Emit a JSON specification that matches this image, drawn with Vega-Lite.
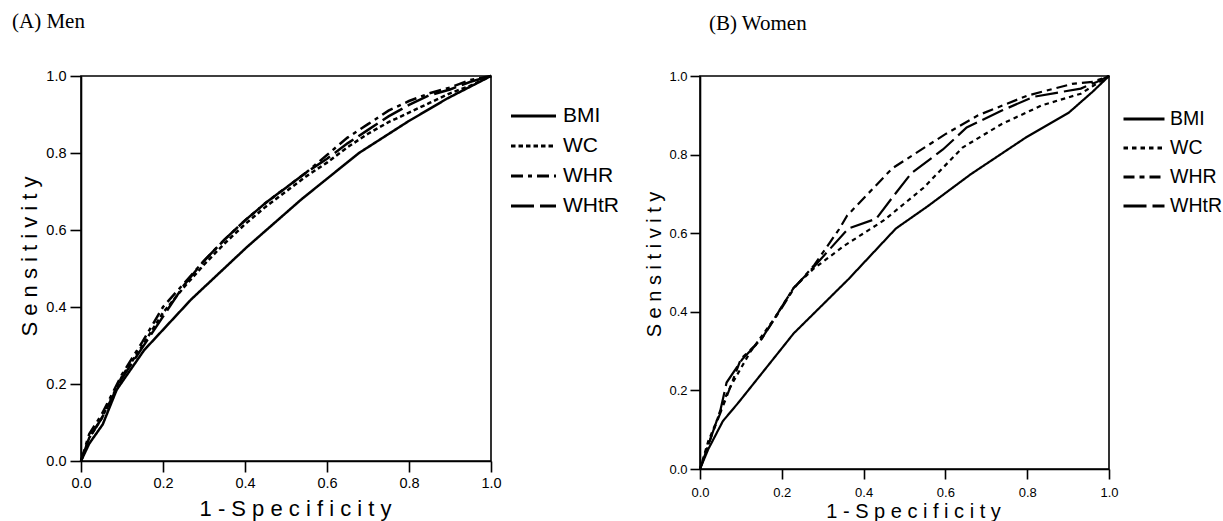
{
  "$schema": "https://vega.github.io/schema/vega-lite/v6.json",
  "padding": {"left": 11, "top": 10, "right": 0, "bottom": 0},
  "background": "white",
  "datasets": {
    "men": [
      {"measure": "BMI", "fpr": 0, "tpr": 0}, {"measure": "BMI", "fpr": 0.02, "tpr": 0.045}, {"measure": "BMI", "fpr": 0.053, "tpr": 0.095}, {"measure": "BMI", "fpr": 0.087, "tpr": 0.185}, {"measure": "BMI", "fpr": 0.154, "tpr": 0.288}, {"measure": "BMI", "fpr": 0.269, "tpr": 0.42}, {"measure": "BMI", "fpr": 0.404, "tpr": 0.555}, {"measure": "BMI", "fpr": 0.538, "tpr": 0.68}, {"measure": "BMI", "fpr": 0.678, "tpr": 0.8}, {"measure": "BMI", "fpr": 0.798, "tpr": 0.882}, {"measure": "BMI", "fpr": 0.894, "tpr": 0.942}, {"measure": "BMI", "fpr": 1, "tpr": 1},
      {"measure": "WC", "fpr": 0, "tpr": 0}, {"measure": "WC", "fpr": 0.02, "tpr": 0.06}, {"measure": "WC", "fpr": 0.05, "tpr": 0.11}, {"measure": "WC", "fpr": 0.1, "tpr": 0.22}, {"measure": "WC", "fpr": 0.15, "tpr": 0.3}, {"measure": "WC", "fpr": 0.2, "tpr": 0.385}, {"measure": "WC", "fpr": 0.25, "tpr": 0.45}, {"measure": "WC", "fpr": 0.3, "tpr": 0.51}, {"measure": "WC", "fpr": 0.35, "tpr": 0.565}, {"measure": "WC", "fpr": 0.4, "tpr": 0.615}, {"measure": "WC", "fpr": 0.45, "tpr": 0.66}, {"measure": "WC", "fpr": 0.5, "tpr": 0.7}, {"measure": "WC", "fpr": 0.55, "tpr": 0.74}, {"measure": "WC", "fpr": 0.6, "tpr": 0.775}, {"measure": "WC", "fpr": 0.65, "tpr": 0.815}, {"measure": "WC", "fpr": 0.7, "tpr": 0.85}, {"measure": "WC", "fpr": 0.75, "tpr": 0.88}, {"measure": "WC", "fpr": 0.8, "tpr": 0.905}, {"measure": "WC", "fpr": 0.85, "tpr": 0.93}, {"measure": "WC", "fpr": 0.9, "tpr": 0.955}, {"measure": "WC", "fpr": 0.95, "tpr": 0.975}, {"measure": "WC", "fpr": 1, "tpr": 1},
      {"measure": "WHR", "fpr": 0, "tpr": 0}, {"measure": "WHR", "fpr": 0.02, "tpr": 0.07}, {"measure": "WHR", "fpr": 0.05, "tpr": 0.12}, {"measure": "WHR", "fpr": 0.1, "tpr": 0.225}, {"measure": "WHR", "fpr": 0.15, "tpr": 0.31}, {"measure": "WHR", "fpr": 0.2, "tpr": 0.4}, {"measure": "WHR", "fpr": 0.25, "tpr": 0.46}, {"measure": "WHR", "fpr": 0.3, "tpr": 0.52}, {"measure": "WHR", "fpr": 0.35, "tpr": 0.575}, {"measure": "WHR", "fpr": 0.4, "tpr": 0.625}, {"measure": "WHR", "fpr": 0.45, "tpr": 0.67}, {"measure": "WHR", "fpr": 0.5, "tpr": 0.71}, {"measure": "WHR", "fpr": 0.55, "tpr": 0.75}, {"measure": "WHR", "fpr": 0.6, "tpr": 0.795}, {"measure": "WHR", "fpr": 0.65, "tpr": 0.84}, {"measure": "WHR", "fpr": 0.7, "tpr": 0.875}, {"measure": "WHR", "fpr": 0.75, "tpr": 0.91}, {"measure": "WHR", "fpr": 0.8, "tpr": 0.935}, {"measure": "WHR", "fpr": 0.85, "tpr": 0.955}, {"measure": "WHR", "fpr": 0.9, "tpr": 0.97}, {"measure": "WHR", "fpr": 0.95, "tpr": 0.99}, {"measure": "WHR", "fpr": 1, "tpr": 1},
      {"measure": "WHtR", "fpr": 0, "tpr": 0}, {"measure": "WHtR", "fpr": 0.02, "tpr": 0.06}, {"measure": "WHtR", "fpr": 0.05, "tpr": 0.11}, {"measure": "WHtR", "fpr": 0.1, "tpr": 0.215}, {"measure": "WHtR", "fpr": 0.15, "tpr": 0.295}, {"measure": "WHtR", "fpr": 0.2, "tpr": 0.375}, {"measure": "WHtR", "fpr": 0.25, "tpr": 0.455}, {"measure": "WHtR", "fpr": 0.3, "tpr": 0.52}, {"measure": "WHtR", "fpr": 0.35, "tpr": 0.575}, {"measure": "WHtR", "fpr": 0.4, "tpr": 0.625}, {"measure": "WHtR", "fpr": 0.45, "tpr": 0.67}, {"measure": "WHtR", "fpr": 0.5, "tpr": 0.71}, {"measure": "WHtR", "fpr": 0.55, "tpr": 0.75}, {"measure": "WHtR", "fpr": 0.6, "tpr": 0.785}, {"measure": "WHtR", "fpr": 0.65, "tpr": 0.825}, {"measure": "WHtR", "fpr": 0.7, "tpr": 0.86}, {"measure": "WHtR", "fpr": 0.75, "tpr": 0.895}, {"measure": "WHtR", "fpr": 0.8, "tpr": 0.925}, {"measure": "WHtR", "fpr": 0.85, "tpr": 0.95}, {"measure": "WHtR", "fpr": 0.9, "tpr": 0.965}, {"measure": "WHtR", "fpr": 0.95, "tpr": 0.985}, {"measure": "WHtR", "fpr": 1, "tpr": 1}
    ],
    "women": [
      {"measure": "BMI", "fpr": 0, "tpr": 0}, {"measure": "BMI", "fpr": 0.02, "tpr": 0.05}, {"measure": "BMI", "fpr": 0.056, "tpr": 0.122}, {"measure": "BMI", "fpr": 0.094, "tpr": 0.169}, {"measure": "BMI", "fpr": 0.147, "tpr": 0.238}, {"measure": "BMI", "fpr": 0.229, "tpr": 0.345}, {"measure": "BMI", "fpr": 0.296, "tpr": 0.414}, {"measure": "BMI", "fpr": 0.363, "tpr": 0.483}, {"measure": "BMI", "fpr": 0.479, "tpr": 0.612}, {"measure": "BMI", "fpr": 0.556, "tpr": 0.668}, {"measure": "BMI", "fpr": 0.662, "tpr": 0.75}, {"measure": "BMI", "fpr": 0.796, "tpr": 0.843}, {"measure": "BMI", "fpr": 0.902, "tpr": 0.907}, {"measure": "BMI", "fpr": 0.96, "tpr": 0.96}, {"measure": "BMI", "fpr": 1, "tpr": 1},
      {"measure": "WC", "fpr": 0, "tpr": 0}, {"measure": "WC", "fpr": 0.02, "tpr": 0.07}, {"measure": "WC", "fpr": 0.04, "tpr": 0.12}, {"measure": "WC", "fpr": 0.065, "tpr": 0.19}, {"measure": "WC", "fpr": 0.08, "tpr": 0.22}, {"measure": "WC", "fpr": 0.123, "tpr": 0.298}, {"measure": "WC", "fpr": 0.18, "tpr": 0.38}, {"measure": "WC", "fpr": 0.229, "tpr": 0.461}, {"measure": "WC", "fpr": 0.277, "tpr": 0.509}, {"measure": "WC", "fpr": 0.354, "tpr": 0.569}, {"measure": "WC", "fpr": 0.45, "tpr": 0.633}, {"measure": "WC", "fpr": 0.546, "tpr": 0.715}, {"measure": "WC", "fpr": 0.642, "tpr": 0.818}, {"measure": "WC", "fpr": 0.738, "tpr": 0.878}, {"measure": "WC", "fpr": 0.835, "tpr": 0.925}, {"measure": "WC", "fpr": 0.931, "tpr": 0.955}, {"measure": "WC", "fpr": 1, "tpr": 1},
      {"measure": "WHR", "fpr": 0, "tpr": 0}, {"measure": "WHR", "fpr": 0.02, "tpr": 0.06}, {"measure": "WHR", "fpr": 0.03, "tpr": 0.09}, {"measure": "WHR", "fpr": 0.06, "tpr": 0.17}, {"measure": "WHR", "fpr": 0.1, "tpr": 0.28}, {"measure": "WHR", "fpr": 0.15, "tpr": 0.33}, {"measure": "WHR", "fpr": 0.2, "tpr": 0.41}, {"measure": "WHR", "fpr": 0.23, "tpr": 0.46}, {"measure": "WHR", "fpr": 0.28, "tpr": 0.52}, {"measure": "WHR", "fpr": 0.34, "tpr": 0.61}, {"measure": "WHR", "fpr": 0.36, "tpr": 0.645}, {"measure": "WHR", "fpr": 0.47, "tpr": 0.765}, {"measure": "WHR", "fpr": 0.6, "tpr": 0.852}, {"measure": "WHR", "fpr": 0.68, "tpr": 0.9}, {"measure": "WHR", "fpr": 0.8, "tpr": 0.95}, {"measure": "WHR", "fpr": 0.91, "tpr": 0.98}, {"measure": "WHR", "fpr": 0.96, "tpr": 0.985}, {"measure": "WHR", "fpr": 1, "tpr": 1},
      {"measure": "WHtR", "fpr": 0, "tpr": 0}, {"measure": "WHtR", "fpr": 0.02, "tpr": 0.06}, {"measure": "WHtR", "fpr": 0.05, "tpr": 0.15}, {"measure": "WHtR", "fpr": 0.065, "tpr": 0.22}, {"measure": "WHtR", "fpr": 0.104, "tpr": 0.28}, {"measure": "WHtR", "fpr": 0.15, "tpr": 0.33}, {"measure": "WHtR", "fpr": 0.229, "tpr": 0.461}, {"measure": "WHtR", "fpr": 0.277, "tpr": 0.513}, {"measure": "WHtR", "fpr": 0.363, "tpr": 0.612}, {"measure": "WHtR", "fpr": 0.431, "tpr": 0.637}, {"measure": "WHtR", "fpr": 0.469, "tpr": 0.689}, {"measure": "WHtR", "fpr": 0.517, "tpr": 0.753}, {"measure": "WHtR", "fpr": 0.594, "tpr": 0.813}, {"measure": "WHtR", "fpr": 0.652, "tpr": 0.869}, {"measure": "WHtR", "fpr": 0.738, "tpr": 0.912}, {"measure": "WHtR", "fpr": 0.815, "tpr": 0.947}, {"measure": "WHtR", "fpr": 0.931, "tpr": 0.968}, {"measure": "WHtR", "fpr": 0.97, "tpr": 0.985}, {"measure": "WHtR", "fpr": 1, "tpr": 1}
    ]
  },
  "config": {
    "view": {"stroke": "black", "strokeWidth": 1.6},
    "axis": {
      "domainColor": "black", "domainWidth": 1.6, "tickColor": "black", "tickWidth": 1.6,
      "labelColor": "black", "titleColor": "black", "labelFont": "Liberation Sans", "titleFont": "Liberation Sans",
      "titleFontWeight": "normal", "grid": false, "labelFlush": false
    },
    "legend": {
      "orient": "none", "title": null, "symbolType": "stroke", "symbolStrokeColor": "black",
      "labelFont": "Liberation Sans", "labelColor": "black", "padding": 0
    },
    "title": {"font": "Liberation Serif", "fontWeight": "normal", "color": "black", "anchor": "start", "frame": "group", "baseline": "alphabetic"}
  },
  "spacing": 24,
  "resolve": {"legend": {"strokeDash": "independent"}, "scale": {"strokeDash": "independent"}},
  "hconcat": [
    {
      "title": {"text": "(A) Men", "fontSize": 21, "offset": 36, "dx": -69},
      "width": 410, "height": 385,
      "data": {"name": "men"},
      "mark": {"type": "line", "color": "black", "strokeWidth": 2.5},
      "encoding": {
        "x": {"field": "fpr", "type": "quantitative", "scale": {"domain": [0, 1], "nice": false},
              "axis": {"values": [0, 0.2, 0.4, 0.6, 0.8, 1], "format": ".1f", "title": "1 - S p e c i f i c i t y", "tickSize": 11, "labelFontSize": 14.5, "titleFontSize": 22, "labelPadding": 4, "titlePadding": 9, "titleX": 214}},
        "y": {"field": "tpr", "type": "quantitative", "scale": {"domain": [0, 1], "nice": false},
              "axis": {"values": [0, 0.2, 0.4, 0.6, 0.8, 1], "format": ".1f", "title": "S e n s i t i v i t y", "tickSize": 11, "labelFontSize": 14.5, "titleFontSize": 22, "labelPadding": 4, "titlePadding": 4, "titleY": 180}},
        "strokeDash": {"field": "measure", "type": "nominal",
              "scale": {"domain": ["BMI", "WC", "WHR", "WHtR"], "range": [[1, 0], [4.5, 3], [12, 5, 4, 5], [23, 6]]},
              "legend": {"legendX": 428, "legendY": 29, "symbolSize": 2025, "symbolStrokeWidth": 3.2, "labelFontSize": 21, "clipHeight": 22, "rowPadding": 8, "labelOffset": 5}}
      }
    },
    {
      "title": {"text": "(B) Women", "fontSize": 21, "offset": 36, "dx": 9},
      "width": 409, "height": 393,
      "data": {"name": "women"},
      "mark": {"type": "line", "color": "black", "strokeWidth": 2.2},
      "encoding": {
        "x": {"field": "fpr", "type": "quantitative", "scale": {"domain": [0, 1], "nice": false},
              "axis": {"values": [0, 0.2, 0.4, 0.6, 0.8, 1], "format": ".1f", "title": "1 - S p e c i f i c i t y", "tickSize": 10, "labelFontSize": 13, "titleFontSize": 20, "labelPadding": 7, "titlePadding": 2, "titleX": 213}},
        "y": {"field": "tpr", "type": "quantitative", "scale": {"domain": [0, 1], "nice": false},
              "axis": {"values": [0, 0.2, 0.4, 0.6, 0.8, 1], "format": ".1f", "title": "S e n s i t i v i t y", "tickSize": 10, "labelFontSize": 13, "titleFontSize": 20, "labelPadding": 3, "titlePadding": 4, "titleY": 188}},
        "strokeDash": {"field": "measure", "type": "nominal",
              "scale": {"domain": ["BMI", "WC", "WHR", "WHtR"], "range": [[1, 0], [4.5, 4], [11, 5, 5, 5], [23, 6]]},
              "legend": {"legendX": 422, "legendY": 33, "symbolSize": 1681, "symbolStrokeWidth": 3, "labelFontSize": 19.5, "clipHeight": 20, "rowPadding": 9, "labelOffset": 4}}
      }
    }
  ]
}
